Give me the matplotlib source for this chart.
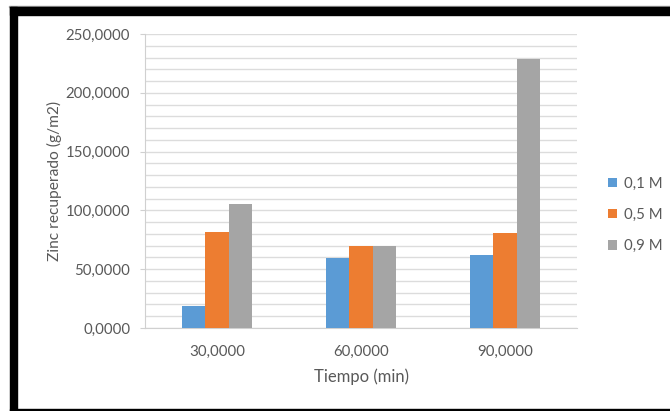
import numpy as np
import matplotlib
matplotlib.use("Agg")
import matplotlib.pyplot as plt
from matplotlib.patches import Rectangle
from matplotlib.ticker import MultipleLocator, FuncFormatter

tiempos = ["30,0000", "60,0000", "90,0000"]
series = ["0,1 M", "0,5 M", "0,9 M"]
zinc_01 = [19.0, 59.5, 62.3]
zinc_05 = [81.9, 69.7, 81.0]
zinc_09 = [105.2, 69.7, 228.5]
colores = ["#5B9BD5", "#ED7D31", "#A5A5A5"]

plt.rcParams['font.family'] = ['Lato', 'DejaVu Sans']
gris = "#595959"

W, H = 670, 411
fig = plt.figure(figsize=(W / 100, H / 100), dpi=100)
fig.patch.set_facecolor("white")

# marco negro (recortado por la derecha)
def px(x, y, w, h, color):
    fig.patches.append(Rectangle((x / W, 1 - (y + h) / H), w / W, h / H,
                                 transform=fig.transFigure, color=color, zorder=0))

px(9, 6, 661, 1, "#9a9a9a")
px(10, 7, 660, 8, "black")
px(10, 7, 7, 404, "black")
px(10, 409, 660, 2, "black")

ax = fig.add_axes([145 / W, 1 - 328 / H, 432 / W, 294 / H])

x = np.arange(len(tiempos))
ancho = 1 / 6.1
datos = [zinc_01, zinc_05, zinc_09]
for i, (vals, nom, col) in enumerate(zip(datos, series, colores)):
    ax.bar(x + (i - 1) * ancho, vals, ancho, color=col, label=nom, zorder=3)

ax.set_xlim(-0.5, 2.5)
ax.set_ylim(0, 250)
ax.yaxis.set_major_locator(MultipleLocator(50))
ax.yaxis.set_minor_locator(MultipleLocator(10))
ax.yaxis.set_major_formatter(FuncFormatter(lambda v, p: f"{v:.4f}".replace(".", ",")))
ax.grid(axis="y", which="both", color="#dcdcdc", lw=1.0, zorder=0)
ax.set_xticks(x)
ax.set_xticklabels(tiempos)

for s in ["top", "right"]:
    ax.spines[s].set_visible(False)
ax.spines["left"].set_color("#d0d0d0")
ax.spines["bottom"].set_color("#d0d0d0")
ax.tick_params(axis="y", which="major", length=3.6, color="#d0d0d0", labelsize=10.8, labelcolor=gris, pad=7)
ax.tick_params(axis="y", which="minor", length=0)
ax.tick_params(axis="x", length=0, labelsize=10.8, labelcolor=gris, pad=12)

ax.set_xlabel("Tiempo (min)", fontsize=12, color=gris, va="center")
ax.set_ylabel("Zinc recuperado (g/m2)", fontsize=11.2, color=gris, va="center")
ax.xaxis.set_label_coords(0.5, -49 / 294)
ax.yaxis.set_label_coords(-91 / 432, 0.5)

ax.legend(loc="center left", bbox_to_anchor=(1.04, 0.385), frameon=False,
          fontsize=10.8, labelcolor=gris, handlelength=0.6, handleheight=0.6,
          handletextpad=0.45, labelspacing=1.15)

fig.savefig("out.png", dpi=100)
